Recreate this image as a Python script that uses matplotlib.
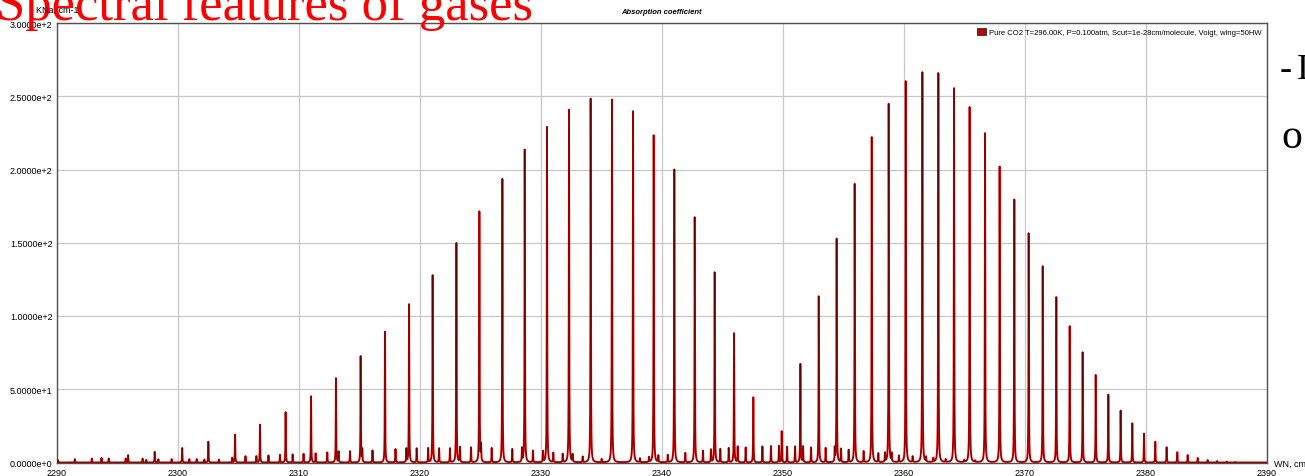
import numpy as np
import matplotlib
matplotlib.use("Agg")
import matplotlib.pyplot as plt
from matplotlib.ticker import FuncFormatter, MultipleLocator
from matplotlib.patches import Patch

# strong lines of the CO2 nu3 band, P branch (wavenumber cm-1, peak absorption)
p_wn = [2291.5, 2293.7, 2295.9, 2298.1, 2300.37, 2302.53, 2304.74, 2306.80,
        2308.92, 2311.02, 2313.08, 2315.12, 2317.13, 2319.12, 2321.07, 2323.03,
        2324.93, 2326.83, 2328.68, 2330.52, 2332.34, 2334.13, 2335.89, 2337.63,
        2339.34, 2341.04, 2342.73, 2344.38, 2345.98, 2347.57]
p_k = [2.3, 3.2, 5.0, 7.3, 9.9, 14.2, 19.0, 25.8,
       34.3, 45.2, 57.5, 72.5, 89.3, 108.0, 127.8, 149.8,
       171.2, 193.5, 213.5, 229.0, 240.8, 248.3, 247.7, 239.7,
       223.3, 199.9, 167.4, 129.8, 88.2, 44.5]

# R branch
r_wn = [2351.46, 2352.98, 2354.46, 2355.95, 2357.36, 2358.76, 2360.17, 2361.54,
        2362.86, 2364.16, 2365.45, 2366.72, 2367.93, 2369.14, 2370.33, 2371.49,
        2372.61, 2373.72, 2374.79, 2375.87, 2376.91, 2377.93, 2378.89, 2379.86,
        2380.79, 2381.73, 2382.61, 2383.47, 2384.30, 2385.12, 2385.90, 2386.70,
        2387.40]
r_k = [67.2, 113.4, 152.6, 190.1, 222.0, 244.7, 260.2, 266.3,
       265.7, 255.4, 242.5, 224.7, 201.9, 179.4, 156.4, 133.9,
       112.8, 93.0, 75.2, 59.7, 46.3, 35.4, 26.7, 19.7,
       14.2, 10.4, 7.0, 5.1, 3.1, 1.7, 1.0, 0.6,
       0.4]

# weak lines (hot band / isotopologues)
w_wn = [2290.1, 2292.9, 2294.3, 2295.7, 2297.1, 2297.4, 2298.4, 2299.5, 2300.96,
        2301.57, 2302.2, 2303.4, 2304.5, 2305.6, 2306.5, 2307.5, 2308.45, 2309.5,
        2310.4, 2311.4, 2312.36, 2313.3, 2314.24, 2315.25, 2316.1, 2318.0, 2318.9,
        2319.75, 2320.7, 2321.6, 2322.5, 2323.33, 2324.24, 2325.07, 2325.95,
        2327.65, 2328.45, 2329.36, 2330.19, 2331.04, 2331.82, 2332.64, 2333.47,
        2335.04, 2338.2, 2338.95, 2339.72, 2340.5, 2341.95, 2343.41, 2344.07,
        2344.84, 2345.54, 2346.28, 2346.94, 2348.32, 2349.03, 2349.69, 2349.92,
        2350.36, 2351.02, 2351.68, 2352.34, 2353.55, 2354.30, 2354.82, 2355.45,
        2356.69, 2357.9, 2358.45, 2359.0, 2359.6, 2360.74, 2361.84, 2362.45,
        2363.47, 2365.0, 2365.9]
w_k = [1.6, 2.7, 2.7, 2.7, 2.7, 1.8, 2.2, 2.3, 2.3,
       2.3, 2.0, 2.0, 3.2, 4.3, 4.3, 4.8, 5.2, 5.5,
       5.9, 6.1, 6.8, 7.3, 7.7, 8.4, 8.2, 9.1, 9.1,
       9.6, 9.6, 9.6, 9.6, 10.2, 10.2, 10.9, 9.8,
       9.1, 9.1, 8.0, 7.3, 6.4, 5.7, 5.0, 3.9,
       2.3, 2.7, 3.4, 4.5, 5.0, 6.4, 8.0, 8.6,
       9.1, 9.8, 10.7, 10.2, 10.9, 11.2, 11.2, 21.3,
       10.7, 10.9, 10.7, 10.2, 9.8, 9.1, 9.1, 8.4,
       7.5, 6.1, 6.1, 5.5, 4.5, 3.9, 3.2, 2.7,
       2.0, 1.4, 1.0]

hwhm = 0.018  # line half width, cm-1

line_wn = np.array(p_wn + r_wn + w_wn)
line_k = np.array(p_k + r_k + w_k)

wn = np.arange(2290.0, 2390.0001, 0.002)
kna = np.zeros_like(wn)
for c, h in zip(line_wn, line_k):
    kna += h * hwhm**2 / ((wn - c)**2 + hwhm**2)

plt.rcParams['font.family'] = ['Liberation Sans', 'DejaVu Sans']

W, H = 1305, 477
fig = plt.figure(figsize=(W / 100, H / 100), dpi=100)
ax = fig.add_axes([56.7 / W, 1 - 463.5 / H, 1210 / W, 439.5 / H])

ax.plot(wn, kna, color='#c80000', lw=1.4, zorder=3)
ax.plot(wn, kna, color='#500000', lw=0.3, zorder=4)

ax.set_xlim(2290, 2390)
ax.set_ylim(0, 300)
ax.xaxis.set_major_locator(MultipleLocator(10))
ax.yaxis.set_major_locator(MultipleLocator(50))


def sci(v, pos):
    m, e = f"{v:.4e}".split("e")
    return f"{m}e{int(e):+d}"


ax.yaxis.set_major_formatter(FuncFormatter(sci))
ax.tick_params(length=0, labelsize=6.5, pad=3)
ax.tick_params(axis='x', pad=4)
ax.grid(True, color='#c8c8c8', lw=0.9)
ax.set_axisbelow(True)
for s in ax.spines.values():
    s.set_color('#505050')
    s.set_linewidth(1.0)

ax.set_title('Absorption coefficient', fontsize=5.5, fontweight='bold',
             fontstyle='italic', pad=7)

ax.legend(handles=[Patch(facecolor='#c00000', edgecolor='#404040', lw=0.8,
                         label='Pure CO2 T=296.00K, P=0.100atm, Scut=1e-28cm/molecule, Voigt, wing=50HW')],
          loc='upper right', frameon=False, fontsize=5.5,
          handlelength=1.3, handleheight=0.9, handletextpad=0.3,
          borderaxespad=0.3)

fig.text(36 / W, 1 - 10 / H, 'KNa, cm-1', fontsize=6.5, va='center', ha='left')
fig.text(1274 / W, 1 - 464 / H, 'WN, cm', fontsize=6.5, va='center', ha='left')

# slide text around the chart
fig.text(-4 / W, 1 - 20 / H, 'Spectral features of gases', color='red',
         fontsize=38, family='Liberation Serif', va='baseline', ha='left', zorder=0)
fig.text(1280 / W, 1 - 79 / H, '-', color='black', fontsize=26,
         family='Liberation Serif', va='baseline', ha='left')
fig.text(1297 / W, 1 - 79 / H, 'I', color='black', fontsize=26,
         family='Liberation Serif', va='baseline', ha='left')
fig.text(1281 / W, 1 - 148 / H, 'o', color='black', fontsize=30,
         family='Liberation Serif', va='baseline', ha='left')

fig.savefig('out.png', dpi=100)
